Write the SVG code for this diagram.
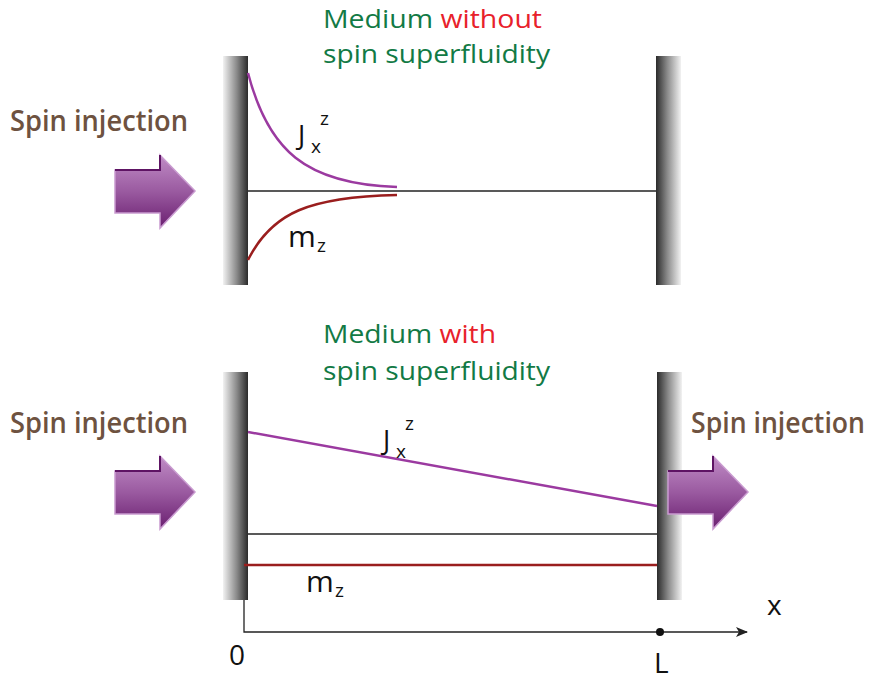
<svg xmlns="http://www.w3.org/2000/svg" width="873" height="680" viewBox="0 0 873 680">
<defs>
<linearGradient id="wallL" x1="0" y1="0" x2="1" y2="0">
<stop offset="0" stop-color="#f2f2f2"/><stop offset="0.55" stop-color="#8a8a8a"/><stop offset="1" stop-color="#2b2b2b"/>
</linearGradient>
<linearGradient id="wallR" x1="0" y1="0" x2="1" y2="0">
<stop offset="0" stop-color="#2b2b2b"/><stop offset="0.45" stop-color="#8a8a8a"/><stop offset="1" stop-color="#f2f2f2"/>
</linearGradient>
<linearGradient id="arrowG" x1="0" y1="0" x2="0" y2="1">
<stop offset="0" stop-color="#c08cc6"/><stop offset="0.5" stop-color="#9a5aa0"/><stop offset="1" stop-color="#6a1f70"/>
</linearGradient>
<marker id="axisHead" viewBox="0 0 12 10" refX="11" refY="5" markerWidth="12" markerHeight="10" markerUnits="userSpaceOnUse" orient="auto">
<path d="M0,0 L12,5 L0,10 L3,5 Z" fill="#222"/>
</marker>
<g id="bigArrow">
<path d="M0,-21 L45,-21 L45,-36 L80,0 L45,37 L45,22 L0,22 Z" fill="url(#arrowG)" stroke="#c99bd0" stroke-width="1.5"/>
<path d="M0,-21 L45,-21 L45,-36" fill="none" stroke="#5e1464" stroke-width="2"/>
</g>
</defs>
<style>
.brown{font-family:"Open Sans","Noto Sans",sans-serif;font-size:28px;font-weight:600;fill:#6e5240;}
.title{font-family:"Open Sans","Noto Sans",sans-serif;font-size:26px;fill:#127a45;}
.red{fill:#e8212b;}
.lbl{font-family:"Open Sans","Noto Sans",sans-serif;font-size:27px;fill:#111;}
.lblm{font-family:"Open Sans","Noto Sans",sans-serif;font-size:30px;fill:#111;}
.sub{font-family:"Open Sans","Noto Sans",sans-serif;font-size:19px;fill:#111;}
.axl{font-family:"Open Sans","Noto Sans",sans-serif;font-size:28px;fill:#111;}
.base{stroke:#222;stroke-width:1.3;fill:none;}
.jx{stroke:#9b3aa0;stroke-width:2.5;fill:none;}
.mz{stroke:#9a1e1e;stroke-width:2.5;fill:none;}
</style>

<g id="top-title">
<text class="title" x="323" y="28" textLength="219" lengthAdjust="spacingAndGlyphs">Medium <tspan class="red">without</tspan></text>
<text class="title" x="323" y="63" textLength="227" lengthAdjust="spacingAndGlyphs">spin superfluidity</text>
</g>
<g id="top-left-label"><text class="brown" x="10" y="131" textLength="178" lengthAdjust="spacingAndGlyphs">Spin injection</text></g>
<g id="top-left-arrow"><use href="#bigArrow" transform="translate(115,191)"/></g>
<g id="top-left-wall"><rect x="223" y="56" width="25" height="229" fill="url(#wallL)"/></g>
<g id="top-right-wall"><rect x="656" y="56" width="25" height="229" fill="url(#wallR)"/></g>

<g id="bottom-title">
<text class="title" x="323" y="343" textLength="173" lengthAdjust="spacingAndGlyphs">Medium <tspan class="red">with</tspan></text>
<text class="title" x="323" y="380" textLength="227" lengthAdjust="spacingAndGlyphs">spin superfluidity</text>
</g>
<g id="bottom-left-label"><text class="brown" x="10" y="433" textLength="178" lengthAdjust="spacingAndGlyphs">Spin injection</text></g>
<g id="bottom-right-label"><text class="brown" x="691" y="433" textLength="174" lengthAdjust="spacingAndGlyphs">Spin injection</text></g>
<g id="bottom-left-arrow"><use href="#bigArrow" transform="translate(115,492)"/></g>
<g id="bottom-left-wall"><rect x="223" y="372" width="25" height="228" fill="url(#wallL)"/></g>
<g id="bottom-right-wall"><rect x="657" y="372" width="25" height="228" fill="url(#wallR)"/></g>
<g id="bottom-right-arrow"><use href="#bigArrow" transform="translate(668,492)"/></g>

<g id="connectors">
<line class="base" x1="248" y1="191" x2="656" y2="191"/>
<path class="jx" d="M248,73 C268,150 305,184 397,187"/>
<path class="mz" d="M248,260 C272,212 310,197 397,195"/>
<line class="base" x1="248" y1="534" x2="657" y2="534"/>
<line class="jx" x1="248" y1="432" x2="657" y2="506"/>
<line class="mz" x1="244" y1="565" x2="657" y2="565"/>
<path class="base" d="M244,600 L244,632 L747,632" marker-end="url(#axisHead)"/>
<circle cx="660" cy="632" r="4" fill="#111"/>
</g>

<g id="labels">
<text class="lbl" x="298" y="145">J</text><text class="sub" x="311" y="153">x</text><text class="sub" x="320" y="125">z</text>
<text class="lblm" x="288" y="247">m</text><text class="sub" x="317" y="252">z</text>
<text class="lbl" x="383" y="450">J</text><text class="sub" x="396" y="458">x</text><text class="sub" x="405" y="430">z</text>
<text class="lblm" x="306" y="592">m</text><text class="sub" x="335" y="597">z</text>
<text class="axl" x="767" y="615">x</text>
<text class="axl" x="229" y="665">0</text>
<text class="axl" x="654" y="673">L</text>
</g>
</svg>
